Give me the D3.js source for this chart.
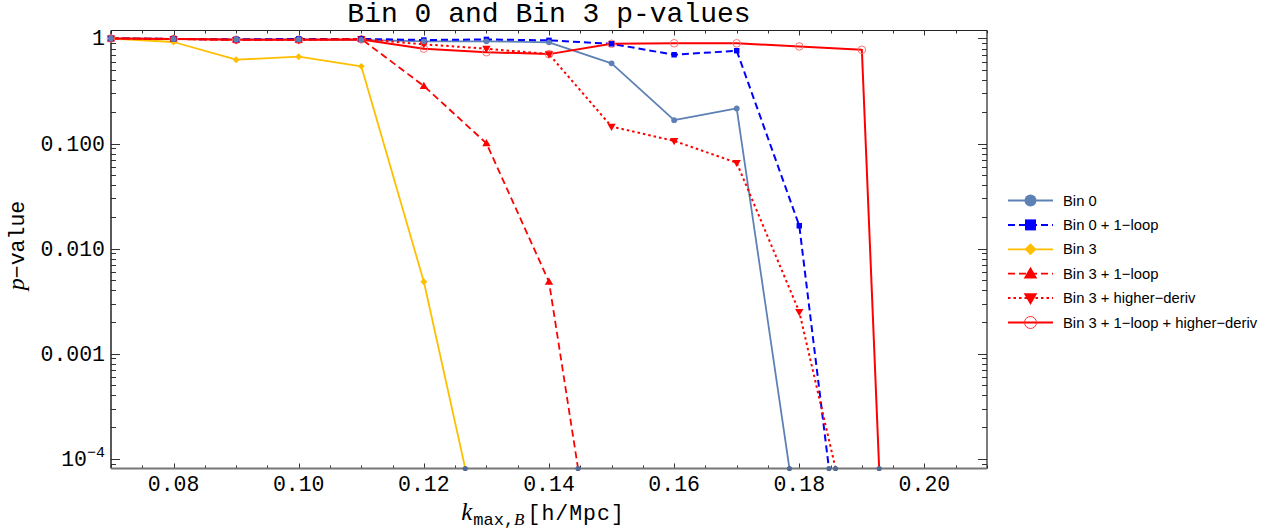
<!DOCTYPE html>
<html>
<head>
<meta charset="utf-8">
<script src="https://cdn.jsdelivr.net/npm/d3@7"></script>
<style>
  body { margin: 0; background: #fff; }
  svg { display: block; }
</style>
</head>
<body>
<svg id="chart" width="1272" height="529"></svg>
<script>
// k_max values (h/Mpc), one per column of the series below
const kValues = [0.07, 0.08, 0.09, 0.10, 0.11, 0.12, 0.13, 0.14, 0.15, 0.16, 0.17, 0.18, 0.19, 0.20]

// p-values; last entry of each lies below the plot range
const bin0 = [1.0, 0.99, 0.98, 0.98, 0.97, 0.94, 0.94, 0.92, 0.58, 0.167, 0.216, 1.85e-5]
const bin0Loop = [1.0, 0.99, 0.98, 0.99, 0.99, 0.967, 0.98, 0.96, 0.89, 0.70, 0.765, 0.0165, 2.2e-7]
const bin3 = [1.0, 0.926, 0.628, 0.671, 0.543, 0.00483, 1.0e-5]
const bin3Loop = [1.0, 0.99, 0.97, 0.97, 0.99, 0.353, 0.1005, 0.00483, 7.2e-7]
const bin3Hd = [1.0, 0.99, 0.97, 0.97, 0.99, 0.88, 0.80, 0.71, 0.145, 0.106, 0.0656, 0.0025, 6.7e-6]
const bin3LoopHd = [1.0, 0.99, 0.97, 0.97, 0.98, 0.80, 0.74, 0.71, 0.89, 0.90, 0.90, 0.84, 0.78, 3e-15]

const seriesNames = ["Bin 0", "Bin 0 + 1\u2212loop", "Bin 3", "Bin 3 + 1\u2212loop", "Bin 3 + higher\u2212deriv", "Bin 3 + 1\u2212loop + higher\u2212deriv"]
const seriesValues = [bin0, bin0Loop, bin3, bin3Loop, bin3Hd, bin3LoopHd]

const yTickValues = [1, 0.1, 0.01, 0.001, 1e-4]
const yTickLabels = ["1", "0.100", "0.010", "0.001", "10^-4"]

const mono = "'Liberation Mono', 'Courier New', monospace"
const sans = "'Liberation Sans', Arial, sans-serif"
const serif = "'Liberation Serif', 'Times New Roman', serif"

// styles per series
const styles = [
  { color: "#5e81b5", dash: null, width: 1.8, marker: "circle" },
  { color: "#0000ff", dash: "7,4", width: 2, marker: "square" },
  { color: "#ffbf00", dash: null, width: 1.8, marker: "diamond" },
  { color: "#ff0000", dash: "7,4", width: 1.8, marker: "triUp" },
  { color: "#ff0000", dash: "2.5,3", width: 2, marker: "triDown" },
  { color: "#ff0000", dash: null, width: 2, marker: "open" },
]

const svg = d3.select("#chart")

const plot = { left: 111, right: 987, top: 30.5, bottom: 468.5 }

const xScale = d3.scaleLinear().domain([0.07, 0.21]).range([plot.left, plot.right])
const yScale = d3.scaleLog()
  .domain([Math.pow(10, -4.093), Math.pow(10, 0.076)])
  .range([plot.bottom, plot.top])

svg.append("defs").append("clipPath").attr("id", "clip")
  .append("rect")
  .attr("x", plot.left).attr("y", plot.top)
  .attr("width", plot.right - plot.left).attr("height", plot.bottom - plot.top)

/**
 * Ticks on the frame
 */
const g_ticks = svg.append("g").attr("stroke", "#333").attr("stroke-width", 1)

const xMinor = xScale.ticks(28)
const xMajor = xScale.ticks(7)
xMinor.forEach((t) => {
  let major = xMajor.some((m) => Math.abs(m - t) < 1e-9)
  let len = major ? 5 : 3
  let x = Math.round(xScale(t)) + 0.5
  g_ticks.append("line").attr("x1", x).attr("x2", x).attr("y1", plot.bottom).attr("y2", plot.bottom - len)
  g_ticks.append("line").attr("x1", x).attr("x2", x).attr("y1", plot.top).attr("y2", plot.top + len)
})

yScale.ticks().forEach((t) => {
  let major = Math.abs(Math.log10(t) - Math.round(Math.log10(t))) < 1e-9
  let len = major ? 9 : 5
  let y = Math.round(yScale(t)) + 0.5
  g_ticks.append("line").attr("x1", plot.left).attr("x2", plot.left + len).attr("y1", y).attr("y2", y)
  g_ticks.append("line").attr("x1", plot.right).attr("x2", plot.right - len).attr("y1", y).attr("y2", y)
})

/**
 * Frame
 */
svg.append("line").attr("x1", plot.left).attr("x2", plot.right).attr("y1", plot.top).attr("y2", plot.top)
  .attr("stroke", "#222").attr("stroke-width", 1.2)
svg.append("line").attr("x1", plot.right).attr("x2", plot.right).attr("y1", plot.top).attr("y2", plot.bottom)
  .attr("stroke", "#222").attr("stroke-width", 1.2)
svg.append("line").attr("x1", plot.left).attr("x2", plot.left).attr("y1", plot.top).attr("y2", plot.bottom)
  .attr("stroke", "#222").attr("stroke-width", 1.5)
svg.append("line").attr("x1", plot.left).attr("x2", plot.right).attr("y1", plot.bottom).attr("y2", plot.bottom)
  .attr("stroke", "#777").attr("stroke-width", 2)

/**
 * Tick labels
 */
svg.append("g").selectAll("text").data(xMajor).enter().append("text")
  .attr("x", (d) => xScale(d))
  .attr("y", plot.bottom + 22)
  .attr("text-anchor", "middle")
  .attr("font-family", mono).attr("font-size", 21.5)
  .text((d) => d3.format(".2f")(d))

yTickValues.forEach((v, i) => {
  let label = yTickLabels[i]
  let t = svg.append("text")
    .attr("x", plot.left - 6)
    .attr("y", yScale(v) + 7)
    .attr("text-anchor", "end")
    .attr("font-family", mono).attr("font-size", 21.5)
  if (label.includes("^")) {
    let [base, exp] = label.split("^")
    t.append("tspan").text(base)
    t.append("tspan").attr("dy", -9).attr("font-size", 15).text(exp.replace("-", "\u2212"))
  } else {
    t.text(label)
  }
})

/**
 * Title and axis labels
 */
svg.append("text")
  .attr("x", (plot.left + plot.right) / 2)
  .attr("y", 22)
  .attr("text-anchor", "middle")
  .attr("font-family", mono).attr("font-size", 28)
  .text("Bin 0 and Bin 3 p-values")

let xl = svg.append("text")
  .attr("x", (plot.left + plot.right) / 2 - 6)
  .attr("y", 520)
  .attr("text-anchor", "middle")
  .attr("font-family", mono).attr("font-size", 21.5)
xl.append("tspan").attr("font-family", serif).attr("font-style", "italic").attr("font-size", 25).text("k")
xl.append("tspan").attr("dy", 5).attr("dx", 1).attr("font-size", 17).text("max,")
xl.append("tspan").attr("font-family", serif).attr("font-style", "italic").attr("font-size", 17).text("B")
xl.append("tspan").attr("dy", -5).attr("dx", 3).attr("letter-spacing", 1).text("[h/Mpc]")

let yl = svg.append("text")
  .attr("transform", `translate(24, ${(plot.top + plot.bottom) / 2 - 4}) rotate(-90)`)
  .attr("text-anchor", "middle")
  .attr("font-family", mono).attr("font-size", 21.5)
yl.append("tspan").attr("font-family", serif).attr("font-style", "italic").attr("font-size", 24).text("p")
yl.append("tspan").text("\u2212value")

/**
 * Markers
 */
function drawMarker(g, type, color, x, y, big) {
  if (type === "circle") {
    g.append("circle").attr("cx", x).attr("cy", y).attr("r", big ? 6 : 2.9).attr("fill", color)
  } else if (type === "open") {
    g.append("circle").attr("cx", x).attr("cy", y).attr("r", big ? 6 : 3.8)
      .attr("fill", "none").attr("stroke", big ? "#ff3030" : "#ff7070").attr("stroke-width", 1)
  } else if (type === "square") {
    g.append("path").attr("transform", `translate(${x},${y})`)
      .attr("d", d3.symbol(d3.symbolSquare, big ? 121 : 30)()).attr("fill", color)
  } else if (type === "diamond") {
    g.append("path").attr("transform", `translate(${x},${y}) rotate(45)`)
      .attr("d", d3.symbol(d3.symbolSquare, big ? 72 : 24)()).attr("fill", color)
  } else if (type === "triUp") {
    g.append("path").attr("transform", `translate(${x},${y + (big ? 1 : 0.5)})`)
      .attr("d", d3.symbol(d3.symbolTriangle, big ? 80 : 30)()).attr("fill", color)
  } else if (type === "triDown") {
    g.append("path").attr("transform", `translate(${x},${y - (big ? 1 : 0.5)}) rotate(180)`)
      .attr("d", d3.symbol(d3.symbolTriangle, big ? 80 : 30)()).attr("fill", color)
  }
}

/**
 * Series lines and points
 */
const yMin = yScale.domain()[0]
const g_lines = svg.append("g").attr("clip-path", "url(#clip)")
const g_points = svg.append("g")

const line = d3.line()
  .x((d) => xScale(d.k))
  .y((d) => yScale(d.p))

seriesValues.forEach((vals, si) => {
  let st = styles[si]
  let data = vals.map((p, i) => ({ k: kValues[i], p: p }))
  g_lines.append("path")
    .datum(data)
    .attr("fill", "none")
    .attr("stroke", st.color)
    .attr("stroke-width", st.width)
    .attr("stroke-dasharray", st.dash)
    .attr("stroke-linejoin", "round")
    .attr("d", line)
})

// draw points on top, in reverse order so Bin 0 sits above the red ones
seriesValues.slice().reverse().forEach((vals, ri) => {
  let si = seriesValues.length - 1 - ri
  let st = styles[si]
  vals.forEach((p, i) => {
    if (p < yMin) return
    drawMarker(g_points, st.marker, st.color, xScale(kValues[i]), yScale(p), false)
  })
})

// small dots where a line leaves through the bottom of the frame
seriesValues.forEach((vals) => {
  for (let i = 0; i + 1 < vals.length; i++) {
    if (vals[i] >= yMin && vals[i + 1] < yMin) {
      let y0 = yScale(vals[i]), y1 = yScale(vals[i + 1])
      let f = (plot.bottom - y0) / (y1 - y0)
      let x = xScale(kValues[i]) + f * (xScale(kValues[i + 1]) - xScale(kValues[i]))
      g_points.append("circle").attr("cx", x).attr("cy", plot.bottom).attr("r", 2.6).attr("fill", "#4f6b94")
    }
  }
})

/**
 * Legend
 */
const legend = { x1: 1008, x2: 1053, tx: 1063, y0: 200.5, dy: 24.4 }
const g_legend = svg.append("g")
seriesNames.forEach((name, i) => {
  let st = styles[i]
  let y = legend.y0 + i * legend.dy
  g_legend.append("line")
    .attr("x1", legend.x1).attr("x2", legend.x2).attr("y1", y).attr("y2", y)
    .attr("stroke", st.color).attr("stroke-width", st.width)
    .attr("stroke-dasharray", st.dash)
  drawMarker(g_legend, st.marker, st.color, (legend.x1 + legend.x2) / 2, y, true)
  g_legend.append("text")
    .attr("x", legend.tx).attr("y", y + 5)
    .attr("font-family", sans).attr("font-size", 14.8)
    .text(name)
})
</script>
</body>
</html>
